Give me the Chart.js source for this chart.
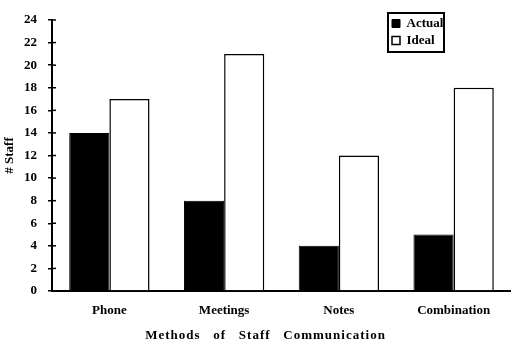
<!DOCTYPE html>
<html>
<head>
<meta charset="utf-8">
<script src="https://cdn.jsdelivr.net/npm/chart.js@4/dist/chart.umd.min.js"></script>
<style>
  html, body { margin: 0; padding: 0; background: #fff; }
  #wrap { width: 511px; height: 341px; position: relative; }
</style>
</head>
<body>
<div id="wrap"><canvas id="c"></canvas></div>
<script>
const categories = ['Phone', 'Meetings', 'Notes', 'Combination'];
const actualValues = [14, 8, 4, 5];
const idealValues = [17, 21, 12, 18];
const yTicks = [0, 2, 4, 6, 8, 10, 12, 14, 16, 18, 20, 22, 24];
const xTitle = 'Methods   of   Staff   Communication';
const yTitle = '# Staff';

const FONT = '"Liberation Serif", serif';

const innerTicks = {
  id: 'innerTicks',
  afterDatasetsDraw(chart) {
    const y = chart.scales.y;
    const ctx = chart.ctx;
    const x0 = chart.chartArea.left;
    ctx.save();
    ctx.strokeStyle = '#000';
    ctx.lineWidth = 1.5;
    y.ticks.forEach(t => {
      const py = y.getPixelForValue(t.value);
      ctx.beginPath();
      ctx.moveTo(x0, py);
      ctx.lineTo(x0 + 4, py);
      ctx.stroke();
    });
    ctx.restore();
  }
};

const legendBox = {
  id: 'legendBox',
  afterLayout(chart) {
    const lg = chart.legend;
    lg.left = 388; lg.top = 13;
    lg.width = 56; lg.height = 39;
    lg.right = lg.left + lg.width; lg.bottom = lg.top + lg.height;
  },
  afterDraw(chart) {
    const lg = chart.legend;
    const ctx = chart.ctx;
    ctx.save();
    ctx.strokeStyle = '#000';
    ctx.lineWidth = 2;
    ctx.strokeRect(lg.left, lg.top, lg.width, lg.height);
    ctx.restore();
  }
};

function spacedTitle(scale) {
  if (scale._spacedTitle) return;
  scale._spacedTitle = true;
  const orig = scale.drawTitle;
  scale.drawTitle = function () {
    const ctx = this.ctx;
    ctx.save();
    ctx.letterSpacing = '1px';
    ctx.translate(-16, 2);
    orig.call(this);
    ctx.restore();
  };
}

new Chart(document.getElementById('c'), {
  type: 'bar',
  data: {
    labels: categories,
    datasets: [
      { label: 'Actual', data: actualValues, backgroundColor: '#000', borderColor: '#000', borderWidth: 1 },
      { label: 'Ideal', data: idealValues, backgroundColor: '#fff', borderColor: '#000', borderWidth: 1.5 }
    ]
  },
  options: {
    responsive: true,
    maintainAspectRatio: false,
    animation: false,
    layout: { padding: { top: 20, right: 0, bottom: 0, left: 0 } },
    datasets: { bar: { categoryPercentage: 0.7, barPercentage: 1 } },
    plugins: {
      legend: {
        position: 'chartArea',
        align: 'start',
        labels: {
          color: '#000',
          font: { family: FONT, size: 13, weight: 'bold' },
          boxWidth: 8, boxHeight: 8, padding: 4
        }
      },
      tooltip: { enabled: false },
      title: { display: false }
    },
    scales: {
      x: {
        grid: { display: false, drawTicks: false },
        border: { display: true, color: '#000', width: 2 },
        ticks: { color: '#000', font: { family: FONT, size: 13, weight: 'bold' }, padding: 12, maxRotation: 0 },
        title: { display: true, text: xTitle, color: '#000', font: { family: FONT, size: 13, weight: 'bold' }, padding: { top: 0, bottom: 0 } },
        afterFit(scale) { scale.height = 50; spacedTitle(scale); }
      },
      y: {
        min: 0, max: 24,
        afterBuildTicks(scale) { scale.ticks = yTicks.map(v => ({ value: v })); },
        grid: { drawOnChartArea: false, drawTicks: true, tickLength: 4, color: '#000', lineWidth: 1.5 },
        border: { display: true, color: '#000', width: 2 },
        ticks: { color: '#000', font: { family: FONT, size: 13, weight: 'bold' }, padding: 11 },
        title: { display: true, text: yTitle, color: '#000', font: { family: FONT, size: 13, weight: 'bold' }, padding: { top: 2, bottom: 0 } },
        afterFit(scale) { scale.width = 52; }
      }
    }
  },
  plugins: [innerTicks, legendBox]
});
</script>
</body>
</html>
